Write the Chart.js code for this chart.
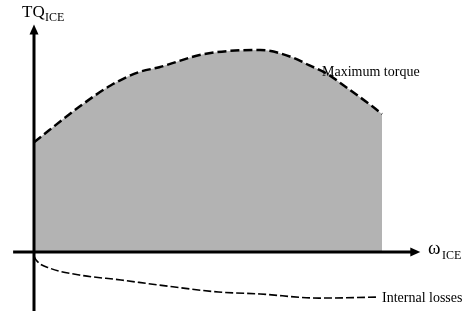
<!DOCTYPE html>
<html>
<head>
<meta charset="utf-8">
<script src="https://cdn.jsdelivr.net/npm/chart.js@4"></script>
<style>
  html, body { margin: 0; padding: 0; background: #fff; }
  #wrap { width: 476px; height: 311px; }
</style>
</head>
<body>
<div id="wrap"><canvas id="mychart" width="476" height="311"></canvas></div>
<script>
// engine speed (normalised 0..100) and torque values
const torqueSpeed = [0, 13, 22, 30, 36, 49, 65, 74, 79, 84, 89, 97, 100];
const maxTorque = [54, 71.5, 82, 88.5, 91, 97.5, 99.5, 96, 92, 88, 82, 72, 68];
const lossSpeed = [0, 0.6, 4.6, 13, 25, 36, 53, 65, 82, 99];
const internalLosses = [-2, -4, -8, -11.3, -13.8, -16.3, -19.7, -20.7, -22.7, -22.2];

const toXY = (xs, ys) => xs.map((x, i) => ({x: x, y: ys[i]}));

const serif = '"Liberation Serif", "Times New Roman", serif';

// axes with arrows + labels, drawn at the scales' zero
const axesPlugin = {
  id: 'axesArrows',
  afterDatasetsDraw(chart) {
    const ctx = chart.ctx;
    const xs = chart.scales.x, ys = chart.scales.y;
    const x0 = xs.getPixelForValue(0), y0 = ys.getPixelForValue(0);
    const yTop = ys.getPixelForValue(112), yBot = ys.getPixelForValue(-30);
    const xLeft = xs.getPixelForValue(-6), xRight = xs.getPixelForValue(111);
    ctx.save();
    ctx.strokeStyle = '#000';
    ctx.fillStyle = '#000';
    ctx.lineWidth = 3;
    ctx.beginPath();
    ctx.moveTo(x0, yBot); ctx.lineTo(x0, yTop + 8);
    ctx.moveTo(xLeft, y0); ctx.lineTo(xRight - 8, y0);
    ctx.stroke();
    ctx.beginPath();
    ctx.moveTo(x0, yTop); ctx.lineTo(x0 - 4.5, yTop + 10); ctx.lineTo(x0 + 4.5, yTop + 10);
    ctx.closePath(); ctx.fill();
    ctx.beginPath();
    ctx.moveTo(xRight, y0); ctx.lineTo(xRight - 10, y0 - 4.5); ctx.lineTo(xRight - 10, y0 + 4.5);
    ctx.closePath(); ctx.fill();

    ctx.textBaseline = 'alphabetic';
    ctx.textAlign = 'left';
    ctx.font = '17px ' + serif;
    ctx.fillText('TQ', 22, 17);
    ctx.font = '12px ' + serif;
    ctx.fillText('ICE', 45, 21);
    ctx.font = '19px ' + serif;
    ctx.fillText('ω', 428, 254);
    ctx.font = '12px ' + serif;
    ctx.fillText('ICE', 442, 259);
    ctx.font = '14px ' + serif;
    ctx.fillText('Maximum torque', 322, 76);
    ctx.fillText('Internal losses', 382, 302);
    ctx.restore();
  }
};

new Chart('mychart', {
  type: 'line',
  data: {
    datasets: [{
      data: toXY(torqueSpeed, maxTorque),
      borderColor: '#000',
      borderWidth: 2.5,
      borderDash: [9, 4],
      backgroundColor: '#b3b3b3',
      fill: 'origin',
      pointRadius: 0,
      cubicInterpolationMode: 'monotone'
    }, {
      data: toXY(lossSpeed, internalLosses),
      borderColor: '#000',
      borderWidth: 1.6,
      borderDash: [8, 3],
      fill: false,
      pointRadius: 0,
      cubicInterpolationMode: 'monotone'
    }]
  },
  options: {
    responsive: false,
    animation: false,
    layout: { padding: 0 },
    plugins: { legend: { display: false }, tooltip: { enabled: false } },
    scales: {
      x: { type: 'linear', min: -9.77, max: 127.0, display: false },
      y: { type: 'linear', min: -29.06, max: 124.1, display: false }
    }
  },
  plugins: [axesPlugin]
});
</script>
</body>
</html>
